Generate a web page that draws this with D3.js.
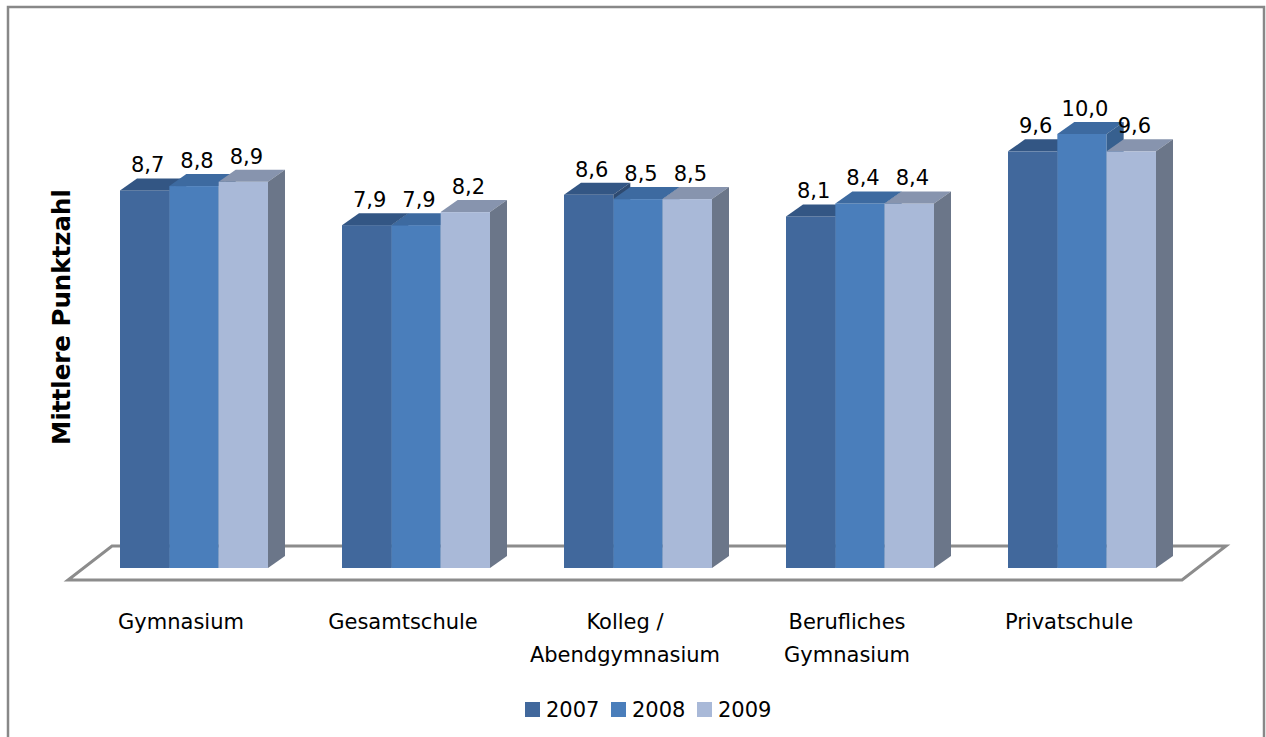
<!DOCTYPE html>
<html lang="de">
<head>
	<meta charset="utf-8"/>
	<title>Mittlere Punktzahl</title>
	<script src="https://d3js.org/d3.v7.min.js"></script>
	<style>
		body { margin: 0; background: #fff; }
		svg text { font-family: "DejaVu Sans", sans-serif; fill: #000; }
	</style>
</head>
<body>
<div id="chart"></div>

<script>
	// data
	var categories = [["Gymnasium"], ["Gesamtschule"], ["Kolleg /", "Abendgymnasium"], ["Berufliches", "Gymnasium"], ["Privatschule"]];
	var years = ["2007", "2008", "2009"];
	var v2007 = [8.7, 7.9, 8.6, 8.1, 9.6];
	var v2008 = [8.8, 7.9, 8.5, 8.4, 10.0];
	var v2009 = [8.9, 8.2, 8.5, 8.4, 9.6];
	var series = [v2007, v2008, v2009];

	var frontColors = ["#41689c", "#4a7ebb", "#a9b9d8"],
		topColors = ["#335684", "#3d6aa0", "#8794ae"],
		sideColors = ["#2e4a70", "#37608f", "#6b7689"];

	var width = 1266,
		height = 737;

	var svg = d3.select("#chart").append("svg")
		.attr("width", width)
		.attr("height", height);

	// outer frame
	svg.append("rect")
		.attr("x", 8).attr("y", 7)
		.attr("width", 1256).attr("height", 740)
		.attr("fill", "none")
		.attr("stroke", "#888")
		.attr("stroke-width", 2.5);

	var names = categories.map(function(c) { return c.join(" "); });

	var x0 = d3.scaleBand()
		.domain(names)
		.range([83, 1193])
		.paddingInner(1 / 3)
		.paddingOuter(1 / 6);

	var x1 = d3.scaleBand()
		.domain(years)
		.range([0, x0.bandwidth()]);

	var y = d3.scaleLinear()
		.domain([0, 10])
		.range([568, 134]);

	var dx = 17, dy = 12; // bar depth

	// floor
	var fl = 68, fr = 1182, fy = 580, fdx = 44, fdy = 34;
	svg.append("path")
		.attr("d", "M" + fl + "," + fy + "L" + fr + "," + fy + "L" + (fr + fdx) + "," + (fy - fdy) +
			"L" + (fl + fdx) + "," + (fy - fdy) + "Z")
		.attr("fill", "#fff")
		.attr("stroke", "#8c8c8c")
		.attr("stroke-width", 3);

	var rows = names.map(function(n, i) {
		return { name: n, bars: years.map(function(yr, j) { return { year: yr, j: j, value: series[j][i] }; }) };
	});

	var group = svg.append("g").selectAll("g")
		.data(rows)
		.enter().append("g")
		.attr("transform", function(d) { return "translate(" + x0(d.name) + ",0)"; });

	var bar = group.selectAll("g")
		.data(function(d) { return d.bars; })
		.enter().append("g");

	var bw = x1.bandwidth(), base = y(0);

	bar.append("rect")
		.attr("x", function(d) { return x1(d.year); })
		.attr("y", function(d) { return y(d.value); })
		.attr("width", bw)
		.attr("height", function(d) { return base - y(d.value); })
		.attr("fill", function(d) { return frontColors[d.j]; });

	bar.append("path")
		.attr("d", function(d) {
			var a = x1(d.year), t = y(d.value);
			return "M" + a + "," + t + "L" + (a + bw) + "," + t + "L" + (a + bw + dx) + "," + (t - dy) +
				"L" + (a + dx) + "," + (t - dy) + "Z";
		})
		.attr("fill", function(d) { return topColors[d.j]; });

	bar.append("path")
		.attr("d", function(d) {
			var a = x1(d.year) + bw, t = y(d.value);
			return "M" + a + "," + t + "L" + (a + dx) + "," + (t - dy) + "L" + (a + dx) + "," + (base - dy) +
				"L" + a + "," + base + "Z";
		})
		.attr("fill", function(d) { return sideColors[d.j]; });

	// value labels
	group.selectAll("text.val")
		.data(function(d) { return d.bars; })
		.enter().append("text")
		.attr("class", "val")
		.attr("x", function(d) { return x1(d.year) + bw / 2 + 3; })
		.attr("y", function(d) { return y(d.value) - dy - 6; })
		.attr("text-anchor", "middle")
		.attr("font-size", 21)
		.text(function(d) { return d3.format(".1f")(d.value).replace(".", ","); });

	// category labels
	svg.append("g").selectAll("text")
		.data(categories)
		.enter().append("text")
		.attr("x", function(d, i) { return x0(names[i]) + x0.bandwidth() / 2 - 13; })
		.attr("y", 629)
		.attr("text-anchor", "middle")
		.attr("font-size", 21)
		.selectAll("tspan")
		.data(function(d) { return d; })
		.enter().append("tspan")
		.attr("x", function() { return d3.select(this.parentNode).attr("x"); })
		.attr("dy", function(d, i) { return i ? 33 : 0; })
		.text(function(d) { return d; });

	// y axis title
	svg.append("text")
		.attr("transform", "translate(70,317) rotate(-90)")
		.attr("text-anchor", "middle")
		.attr("font-size", 24.5)
		.attr("font-weight", "bold")
		.text("Mittlere Punktzahl");

	// legend
	var legend = svg.append("g").selectAll("g")
		.data(years)
		.enter().append("g")
		.attr("transform", function(d, i) { return "translate(" + (525 + i * 86) + ",702)"; });

	legend.append("rect")
		.attr("width", 15).attr("height", 15)
		.attr("fill", function(d, i) { return frontColors[i]; });

	legend.append("text")
		.attr("x", 21)
		.attr("y", 15)
		.attr("font-size", 21)
		.text(function(d) { return d; });
</script>
</body>
</html>
